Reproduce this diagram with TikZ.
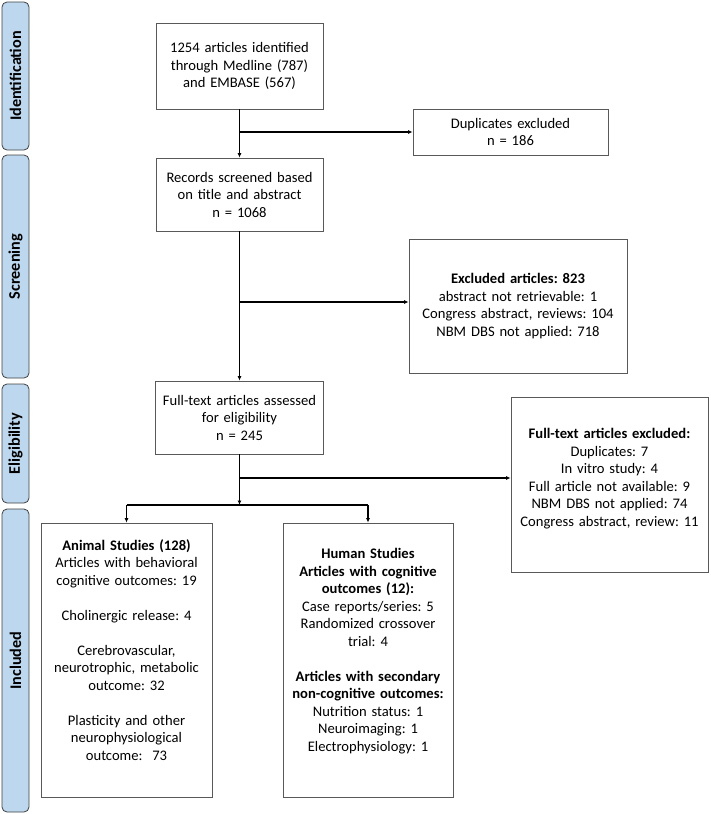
\documentclass[tikz,border=0pt]{standalone}
\usepackage{fontspec}
\setmainfont{Carlito}
\usetikzlibrary{arrows.meta}
\definecolor{phasefill}{RGB}{189,215,238}
\newcommand\padbelow[1]{\rule[-#1]{0pt}{#1}}
\frenchspacing

\begin{document}
\begin{tikzpicture}[x=1pt,y=-1pt,
  box/.style={draw=black!65,line width=0.8pt,align=center,inner xsep=2pt,inner ysep=2pt,font=\fontsize{14.6}{17.5}\selectfont},
  phase/.style={draw=black!75,fill=phasefill,rounded corners=5pt,line width=0.8pt,rotate=90,minimum height=27pt,inner sep=0pt,font=\fontsize{16.2}{18}\selectfont\bfseries},
  link/.style={line width=1.2pt,-{Latex[length=4.5pt,width=4pt]}}]

  \useasboundingbox (0,0) rectangle (710,814);

  % phases on the left
  \node[phase,minimum width=148pt] (ident) at (15.5,76) {Identification};
  \node[phase,minimum width=223pt] (screen) at (15.5,266.5) {Screening};
  \node[phase,minimum width=119pt] (elig) at (15.5,443.5) {Eligibility};
  \node[phase,minimum width=303pt] (incl) at (15.5,660.5) {Included};

  % main column
  \node[box,text width=163pt,minimum height=86pt] (found) at (239.5,66)
    {1254 articles identified\\through Medline (787)\\and EMBASE (567)};
  \node[box,text width=163pt,minimum height=73pt] (screened) at (239.5,194.5)
    {Records screened based\\on title and abstract\\n = 1068};
  \node[box,text width=164pt,minimum height=73pt] (assessed) at (239.5,417.5)
    {Full-text articles assessed\\for eligibility\\n = 245};

  % exclusions
  \node[box,text width=191pt,minimum height=46pt] (dupl) at (510.5,132)
    {Duplicates excluded\\n = 186};
  \node[box,text width=214pt,minimum height=134pt] (excl) at (518,306)
    {\textbf{Excluded articles: 823}\\abstract not retrievable: 1\\Congress abstract, reviews: 104\\NBM DBS not applied: 718};
  \node[box,text width=193pt,minimum height=175pt] (ftexcl) at (609.5,484.5)
    {\textbf{Full-text articles excluded:}\\Duplicates: 7\\In vitro study: 4\\Full article not available: 9\\NBM DBS not applied: 74\\Congress abstract, review: 11\padbelow{14pt}};

  % included studies
  \node[box,text width=167pt,minimum height=274pt] (animal) at (126.5,660)
    {\textbf{Animal Studies (128)}\\Articles with behavioral\\cognitive outcomes: 19\\[17.5pt]
     Cholinergic release: 4\\[17.5pt]
     Cerebrovascular,\\neurotrophic, metabolic\\outcome: 32\\[17.5pt]
     Plasticity and other\\neurophysiological\\outcome:~ 73\padbelow{20pt}};
  \node[box,text width=166pt,minimum height=274pt] (human) at (368,660)
    {\textbf{Human Studies}\\\textbf{Articles with cognitive}\\\textbf{outcomes (12):}\\Case reports/series: 5\\Randomized crossover\\trial: 4\\[17.5pt]
     \textbf{Articles with secondary}\\\textbf{non-cognitive outcomes:}\\Nutrition status: 1\\Neuroimaging: 1\\Electrophysiology: 1\padbelow{20pt}};

  % branch points
  \coordinate (b1) at (found.south |- dupl.west);
  \coordinate (b2) at (239.5,302);
  \coordinate (b3) at (239.5,478);
  \coordinate (split) at (239.5,505);
  \coordinate (ta) at (animal.north |- split);
  \coordinate (th) at (human.north |- split);

  \path[link]
   (found) edge (screened)
   (b1) edge (dupl)
   (screened) edge (assessed)
   (b2) edge (b2 -| excl.west)
   (assessed) edge (split)
   (b3) edge (b3 -| ftexcl.west)
   (ta) edge (animal)
   (th) edge (human);
  \draw[line width=1.2pt] (ta) -- (th);
\end{tikzpicture}
\end{document}
